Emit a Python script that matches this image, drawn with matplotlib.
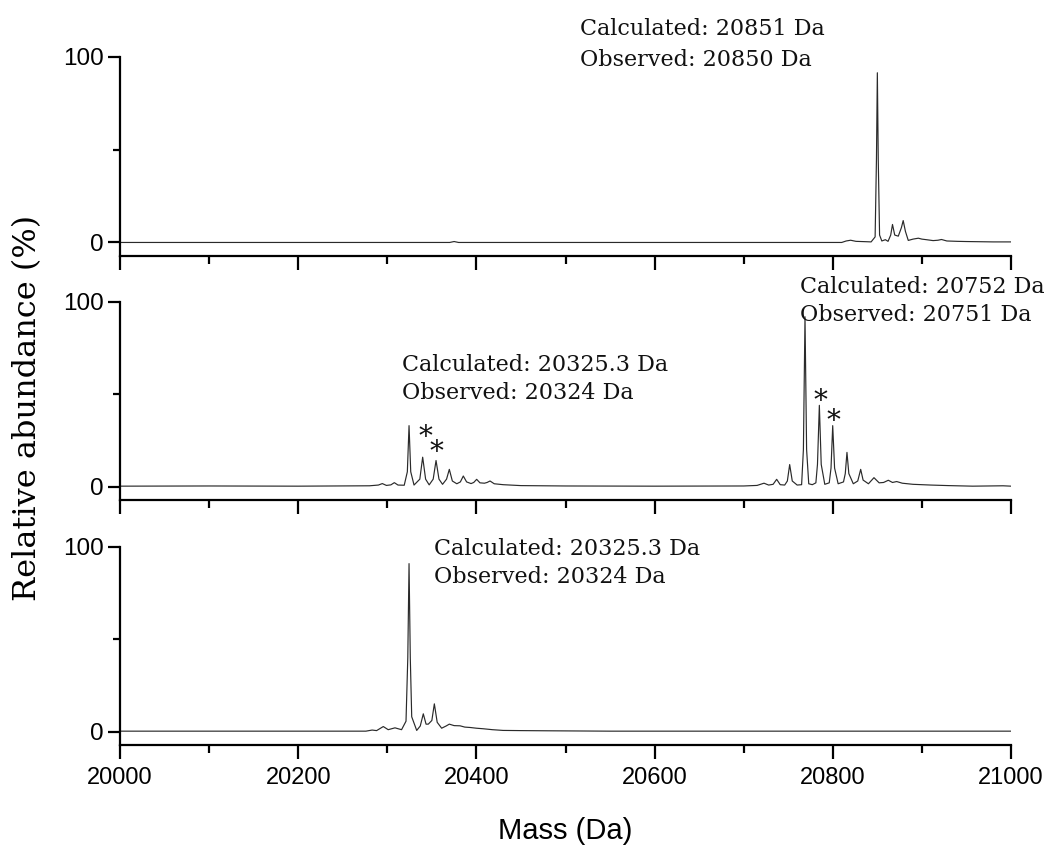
import matplotlib
matplotlib.use("Agg")
import matplotlib.pyplot as plt
from matplotlib.ticker import MultipleLocator, FixedLocator
from matplotlib.transforms import offset_copy

# ---------------- data ----------------
top_mass = [20000, 20370, 20375, 20380, 20810, 20815, 20820, 20826, 20832, 20838,
            20843, 20847.5, 20849, 20850, 20851, 20852.5, 20855, 20859, 20862,
            20865, 20867, 20869.5, 20873.5, 20877, 20879, 20881.5, 20884.7,
            20890, 20896, 20900, 20905, 20912.6, 20918, 20922, 20928, 20940,
            20950, 20965, 20980, 21000]
top_abund = [0, 0, 0.5, 0, 0, 0.8, 1.2, 0.6, 0.5, 0.4,
             0.3, 3, 45, 91.5, 45, 4, 0.8, 1.5, 0.6,
             4, 9.7, 4, 3.4, 8, 11.8, 6, 1.1,
             1.8, 2.3, 1.8, 1.5, 1.0, 1.2, 1.6, 0.8, 0.6,
             0.5, 0.4, 0.3, 0.3]

mid_mass = [20000, 20100, 20200, 20280, 20290, 20294.4, 20299, 20304, 20307.9, 20312,
            20319, 20322.5, 20324.4, 20326.3, 20330, 20336.5, 20339.7, 20343, 20347,
            20351.5, 20354.7, 20358, 20362, 20366.5, 20369.6, 20373, 20378, 20382,
            20385.3, 20389, 20394, 20397, 20400.3, 20404, 20409, 20412, 20415.3,
            20420, 20430, 20450, 20500, 20600, 20700, 20715, 20722.8, 20728, 20733,
            20737, 20741, 20746, 20749, 20751.6, 20754.5, 20760, 20765, 20767, 20768.8,
            20770.6, 20773, 20777, 20781, 20782.8, 20784.9, 20787, 20791, 20796,
            20798, 20799.9, 20802, 20806, 20812, 20814, 20815.9, 20818, 20823,
            20828, 20831.3, 20834, 20840, 20846.2, 20852, 20857, 20862.3, 20867,
            20871.7, 20878, 20890, 20910, 20930, 20957, 20991, 21000]
mid_abund = [0.2, 0.3, 0.2, 0.4, 0.8, 1.6, 0.6, 0.9, 2.1, 0.8,
             0.7, 8, 33, 8, 0.8, 4, 15.9, 4, 0.9,
             4, 14.1, 4, 1.2, 4, 9.3, 3, 1.5, 2.5,
             5.7, 2.5, 1.6, 2.2, 3.9, 2.0, 1.8, 2.2, 3.0,
             1.5, 1.0, 0.5, 0.3, 0.2, 0.3, 0.6, 1.8, 0.8, 1.2,
             3.9, 1.0, 0.8, 3, 11.9, 3, 0.8, 1.0, 20, 92,
             20, 1.5, 1.0, 2, 12, 44, 12, 1.2, 2,
             10, 33, 10, 1.5, 2.5, 7, 18.5, 7, 1.5,
             3, 9.3, 3.5, 1.5, 4.8, 2.0, 2.2, 3.4, 2.2,
             2.7, 1.8, 1.2, 0.8, 0.5, 0.2, 0.4, 0.2]

bot_mass = [20000, 20100, 20200, 20276, 20283, 20288, 20295.5, 20301, 20308.6, 20316,
            20321, 20323, 20324.4, 20325.8, 20327.4, 20333, 20337, 20340.4, 20343.5,
            20346, 20350, 20352.8, 20356, 20361, 20366, 20369.6, 20375, 20381.6,
            20387, 20392.8, 20400, 20407.7, 20418, 20430, 20450, 20480, 20550,
            20700, 20850, 21000]
bot_abund = [0.2, 0.2, 0.2, 0.2, 0.8, 0.5, 2.7, 1.0, 2.0, 1.0,
             5.6, 40, 91, 40, 8, 0.6, 3, 9.6, 4,
             4, 6, 15, 5, 1.8, 3, 4.0, 3.2, 3.1,
             2.4, 2.2, 1.8, 1.5, 1.0, 0.6, 0.5, 0.4, 0.2,
             0.2, 0.2, 0.2]

panel_mass = [top_mass, mid_mass, bot_mass]
panel_abund = [top_abund, mid_abund, bot_abund]

# annotations: panel, mass (left edge), abundance (baseline of first line), lines
annot_panel = [0, 1, 1, 2]
annot_mass = [20516, 20316, 20763, 20352.4]
annot_abund = [111.6, 62.6, 104.8, 95.7]
annot_line1 = ["Calculated: 20851 Da", "Calculated: 20325.3 Da",
               "Calculated: 20752 Da", "Calculated: 20325.3 Da"]
annot_line2 = ["Observed: 20850 Da", "Observed: 20324 Da",
               "Observed: 20751 Da", "Observed: 20324 Da"]
annot_gap_px = [31, 28, 28, 28]

star_panel = [1, 1, 1, 1]
star_mass = [20342.3, 20354.7, 20785.6, 20801.3]
star_abund = [26.5, 18.5, 46, 35]

x_ticks = [20000, 20200, 20400, 20600, 20800, 21000]
y_ticks = [0, 100]

# ---------------- figure ----------------
W, H = 1048, 848
fig = plt.figure(figsize=(W / 100, H / 100), dpi=100)

serif = ["DejaVu Serif"]
sans = ["Liberation Sans", "DejaVu Sans"]

left = 120 / W
width = 891 / W
tops = [57, 302, 547]
bots = [256, 500, 745]
ymin = -7.3

axes = []
for i in range(3):
    ax = fig.add_axes([left, 1 - bots[i] / H, width, (bots[i] - tops[i]) / H])
    axes.append(ax)
    ax.plot(panel_mass[i], panel_abund[i], color="#2a2a2a", lw=0.85)
    ax.set_xlim(20000, 21000)
    ax.set_ylim(ymin, 100)
    for s in ("top", "right"):
        ax.spines[s].set_visible(False)
    for s in ("left", "bottom"):
        ax.spines[s].set_linewidth(1.6)
    ax.xaxis.set_major_locator(FixedLocator(x_ticks))
    ax.xaxis.set_minor_locator(MultipleLocator(100))
    ax.yaxis.set_major_locator(FixedLocator(y_ticks))
    ax.yaxis.set_minor_locator(FixedLocator([50]))
    ax.tick_params(axis="x", which="major", length=10, width=1.6, direction="out")
    ax.tick_params(axis="x", which="minor", length=6, width=1.6, direction="out")
    ax.tick_params(axis="y", which="major", length=8.6, width=1.6, direction="out", pad=3)
    ax.tick_params(axis="y", which="minor", length=5, width=1.6, direction="out")
    for lab in ax.get_yticklabels():
        lab.set_family(sans)
        lab.set_fontsize(17.5)
    if i < 2:
        ax.tick_params(axis="x", labelbottom=False)
    else:
        ax.tick_params(axis="x", pad=6)
        for lab in ax.get_xticklabels():
            lab.set_family(sans)
            lab.set_fontsize(17)

for p, m, a, t1, t2, g in zip(annot_panel, annot_mass, annot_abund,
                              annot_line1, annot_line2, annot_gap_px):
    ax = axes[p]
    ax.text(m, a, t1, family=serif, fontsize=16, ha="left", va="baseline",
            clip_on=False, color="#111111")
    tr2 = offset_copy(ax.transData, fig=fig, x=0, y=-g, units="dots")
    ax.text(m, a, t2, family=serif, fontsize=16, ha="left", va="baseline",
            clip_on=False, color="#111111", transform=tr2)

for p, m, a in zip(star_panel, star_mass, star_abund):
    axes[p].text(m, a, "*", family=serif, fontsize=20, ha="center", va="center",
                 clip_on=False, color="#111111")

fig.text(28 / W, 1 - 408 / H, "Relative abundance (%)", family=serif, fontsize=23,
         rotation=90, ha="center", va="center")
fig.text(565 / W, 1 - 831 / H, "Mass (Da)", family=sans, fontsize=21,
         ha="center", va="center")

fig.savefig("out.png", dpi=100)
